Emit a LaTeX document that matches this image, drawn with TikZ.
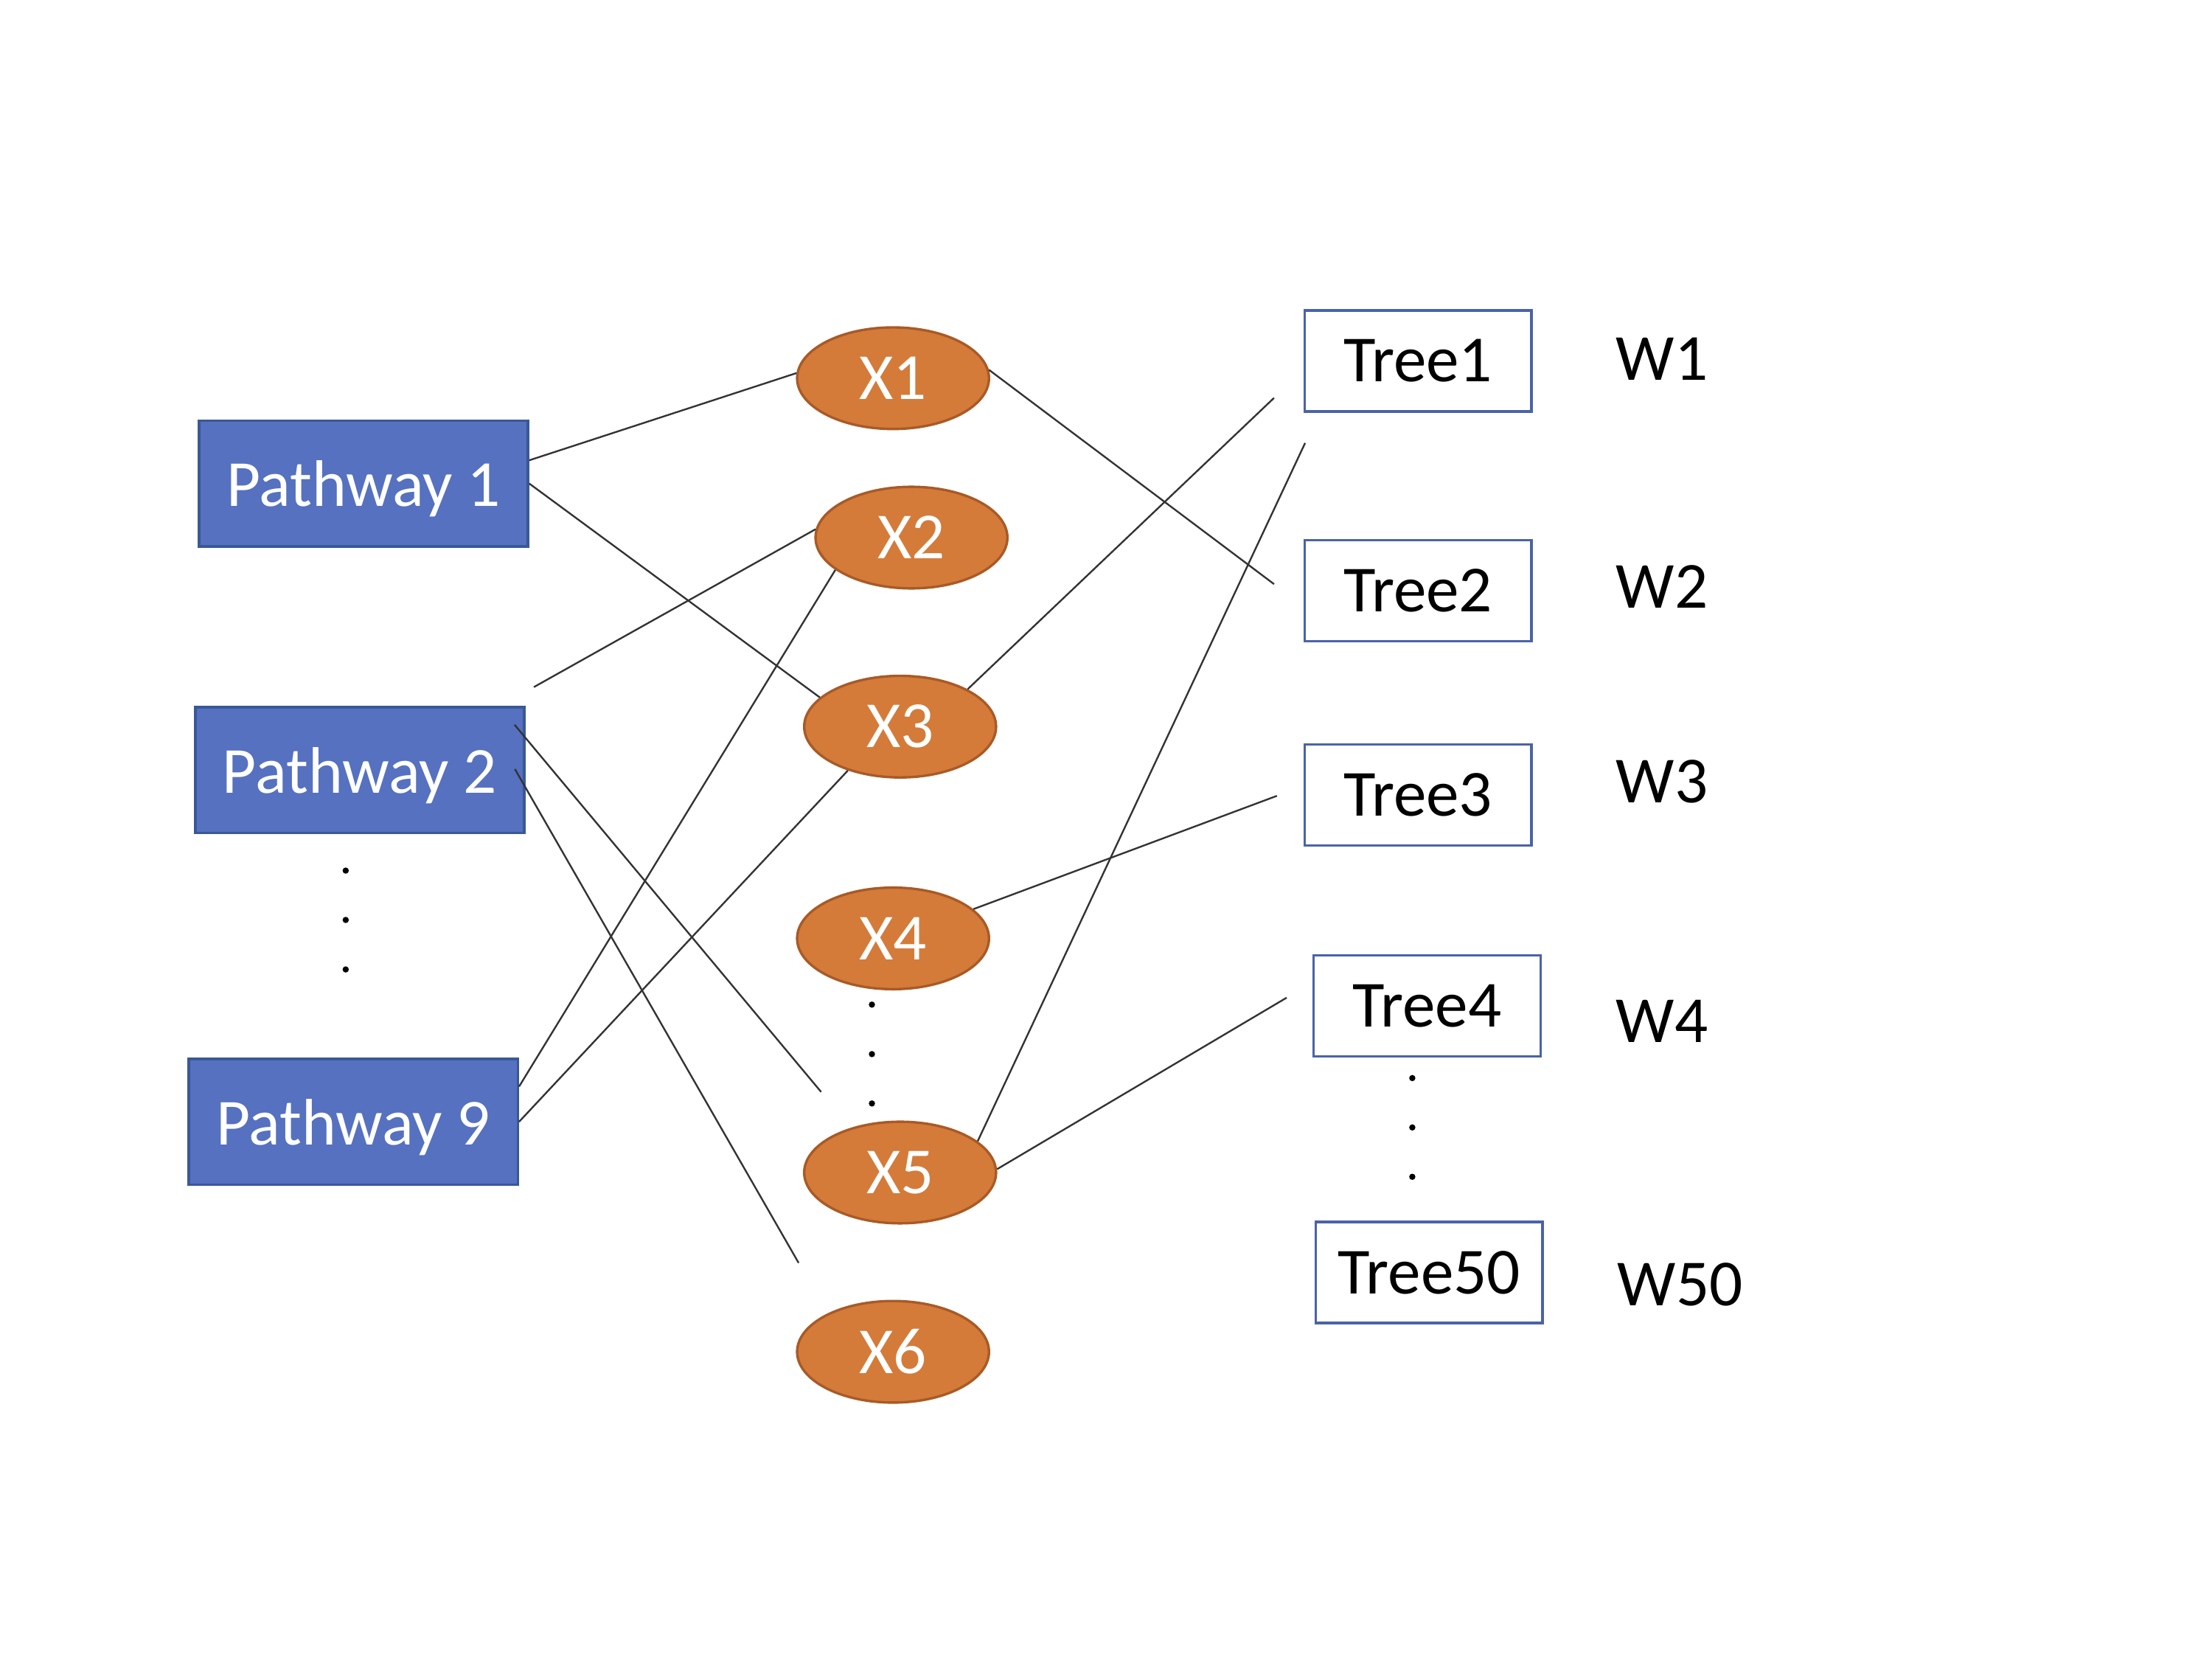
\documentclass[tikz,border=0pt]{standalone}
\usepackage{fontspec}
\setmainfont{Carlito}
\usetikzlibrary{shapes.geometric}
\definecolor{pathblue}{HTML}{5571C0}
\definecolor{pathedge}{HTML}{3A5898}
\definecolor{varorange}{HTML}{D47B3A}
\definecolor{varedge}{HTML}{A95A26}
\definecolor{treeedge}{HTML}{4A63A8}
\tikzset{
  pathbox/.style={rectangle,fill=pathblue,draw=pathedge,line width=0.5pt,
    minimum width=2.32cm,minimum height=0.886cm,text=white,text depth=0pt,inner sep=0pt},
  varnode/.style={ellipse,fill=varorange,draw=varedge,line width=0.5pt,
    minimum width=1.353cm,minimum height=0.716cm,text=white,inner sep=0pt},
  treebox/.style={rectangle,draw=treeedge,line width=0.5pt,
    minimum width=1.6cm,minimum height=0.713cm,inner sep=0pt},
  link/.style={line width=0.35pt,black!80}
}

\begin{document}
\begin{tikzpicture}[font=\fontsize{13.2}{16}\selectfont]
\useasboundingbox (0,0) rectangle (15.6,11.7);
\def\r{0.022}
\node[pathbox] (p1) at (2.564,8.29) {Pathway 1};
\node[pathbox] (p2) at (2.537,6.27) {Pathway 2};
\node[pathbox] (p9) at (2.492,3.79) {Pathway 9};
\foreach \y in {5.561,5.213,4.864} \fill (2.438,\y) circle (\r);
\node[varnode] (x1) at (6.298,9.033) {X1};
\node[varnode] (x2) at (6.428,7.909) {X2};
\node[varnode] (x3) at (6.348,6.576) {X3};
\node[varnode] (x4) at (6.298,5.083) {X4};
\node[varnode] (x5) at (6.348,3.432) {X5};
\node[varnode] (x6) at (6.298,2.168) {X6};
\foreach \y in {4.616,4.267,3.919} \fill (6.149,\y) circle (\r);
\node[treebox] (t1) at (10.0,9.155) {Tree1};
\node[treebox] (t2) at (10.0,7.535) {Tree2};
\node[treebox] (t3) at (10.0,6.095) {Tree3};
\node[treebox] (t4) at (10.064,4.608) {Tree4};
\node[treebox] (t50) at (10.079,2.727) {Tree50};
\foreach \y in {4.098,3.75,3.402} \fill (9.96,\y) circle (\r);
\node (w1) at (11.72,9.17) {W1};
\node (w2) at (11.72,7.565) {W2};
\node (w3) at (11.72,6.19) {W3};
\node (w4) at (11.72,4.50) {W4};
\node (w50) at (11.85,2.64) {W50};
\coordinate (c3) at (3.765,6.855);
\coordinate (c6) at (5.791,4.0);
\coordinate (c7) at (5.632,2.795);
\coordinate (c8) at (8.985,7.581);
\coordinate (c9) at (8.985,8.894);
\coordinate (c10) at (9.204,8.576);
\coordinate (c11) at (9.005,6.088);
\coordinate (c12) at (9.074,4.665);
\draw[link] (p1.8.5) -- (x1.177);
\draw[link] (p1.east) -- (x3.160);
\draw[link] (c3) -- (x2.175);
\draw[link] (p9.12.6) -- (x2.203);
\draw[link] (p9.east) -- (x3.220);
\draw[link,shorten <=-1.2mm] (p2.11) -- (c6);
\draw[link,shorten <=-1.5mm] (p2.-6.9) -- (c7);
\draw[link] (x1.5) -- (c8);
\draw[link] (x3.29) -- (c9);
\draw[link] (x5.22) -- (c10);
\draw[link] (x4.20) -- (c11);
\draw[link] (x5.2) -- (c12);
\end{tikzpicture}
\end{document}
